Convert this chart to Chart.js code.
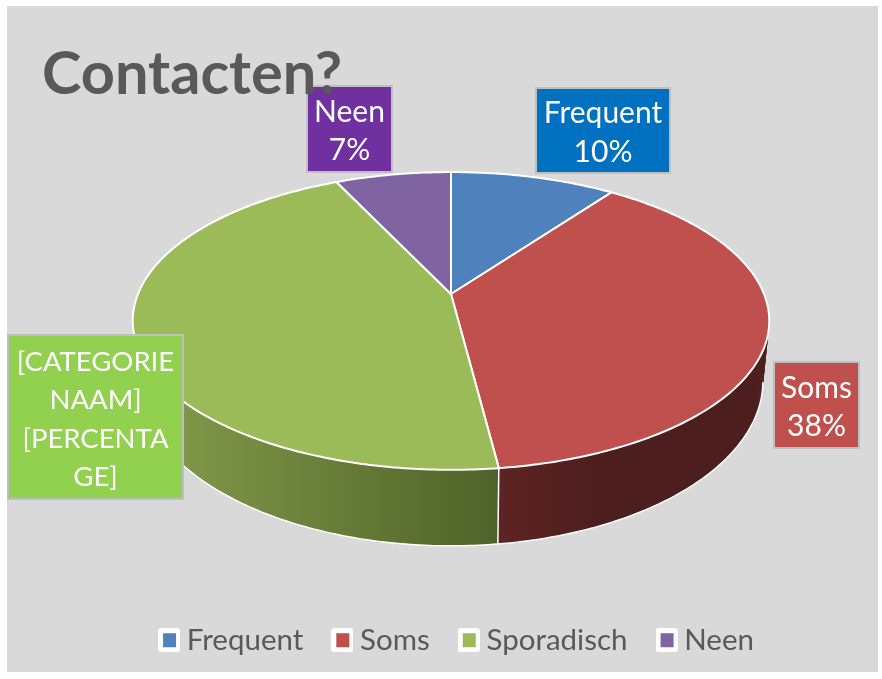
<!DOCTYPE html>
<html><head><meta charset="utf-8">
<style>html,body{margin:0;padding:0;background:#fff}#w{width:882px;height:679px;position:relative}</style>
<script src="https://cdn.jsdelivr.net/npm/chart.js@4"></script>
</head><body><div id="w"><canvas id="c" width="882" height="679"></canvas></div>
<script>
const categories = ["Frequent","Soms","Sporadisch","Neen"];
const values = [10,38,45,7];
const sliceColors = ["#4f81bd","#c0504d","#9bbb59","#8064a2"];
const labelColors = ["#0070c0","#c0504d","#92d050","#7030a0"];
const labelTexts = [["Frequent","10%"],["Soms","38%"],["[CATEGORIE","NAAM]","[PERCENTA","GE]"],["Neen","7%"]];
const labelBoxes = [[536,88,134,85],[774,362,85,86],[8,335,175,164],[307,86,85,86]];
const labelFonts = [30,30,27.5,30];
const labelOnTop = [false,false,true,false];
const wallStops = [null,[499,600,"#5e2423","#4c1e1e"],[133,499,"#869f4c","#4f6229"],null];

const TOP = {cx:451,cy:294,A:313,B:144,k:-0.181};
const LOW = {cx:451,cy:351,A:306.8,B:159.6,k:-0.181};
function proj(p,a){const t=a+Math.PI/2,u=Math.sin(t),v=-Math.cos(t),d=1+p.k*v;return [p.cx+p.A*u/d,p.cy+p.B*v/d];}
function swatch(col){const c=document.createElement('canvas');c.width=22;c.height=24;const x=c.getContext('2d');
  x.fillStyle='#fff';x.beginPath();x.roundRect(0,0,22,24,3);x.fill();x.fillStyle=col;x.fillRect(5,5,13,14);return c;}
function drawLabels(g,onTop){
  g.save();
  labelBoxes.forEach((b,i)=>{
    if(labelOnTop[i]!==onTop)return;
    g.fillStyle=labelColors[i];g.fillRect(b[0],b[1],b[2],b[3]);
    g.strokeStyle='#bfbfbf';g.lineWidth=2;g.strokeRect(b[0],b[1],b[2],b[3]);
    const lines=labelTexts[i],lh=38.5,y0=b[1]+b[3]/2-(lines.length-1)*lh/2+2.5;
    g.fillStyle='#fff';g.font=labelFonts[i]+'px Lato';g.textAlign='center';g.textBaseline='middle';
    lines.forEach((t,j)=>g.fillText(t,b[0]+b[2]/2,y0+j*lh));
  });
  g.restore();
}

const pie3d={id:'pie3d',
 beforeDraw(ch){const g=ch.ctx;g.fillStyle='#d9d9d9';g.fillRect(7,6,871,666);drawLabels(g,false);},
 beforeDatasetDraw(ch){
  const g=ch.ctx,arcs=ch.getDatasetMeta(0).data,STEP=Math.PI/240,R0=Math.PI*0.06,L0=Math.PI*0.95;
  g.save();
  arcs.forEach((arc,i)=>{
    const s=arc.startAngle,e=arc.endAngle,n=Math.max(2,Math.ceil((e-s)/STEP));
    let fill=sliceColors[i];
    const st=wallStops[i];
    if(st){const gr=g.createLinearGradient(st[0],0,st[1],0);gr.addColorStop(0,st[2]);gr.addColorStop(1,st[3]);fill=gr;}
    g.fillStyle=fill;
    for(let j=0;j<n;j++){
      const a=s+(e-s)*j/n,b=s+(e-s)*Math.min(n,j+2)/n,p1=proj(TOP,a),p2=proj(TOP,b),q1=proj(LOW,a),q2=proj(LOW,b);
      g.beginPath();g.moveTo(p1[0],p1[1]);g.lineTo(p2[0],p2[1]);g.lineTo(q2[0],q2[1]);g.lineTo(q1[0],q1[1]);g.closePath();g.fill();
    }
  });
  g.strokeStyle='#fff';g.lineWidth=1.5;
  arcs.forEach((arc)=>{
    const s=Math.max(arc.startAngle,R0),e=Math.min(arc.endAngle,L0);
    if(e>s){const n=Math.max(2,Math.ceil((e-s)/STEP));
      g.beginPath();
      for(let j=0;j<=n;j++){const q=proj(LOW,s+(e-s)*j/n);j?g.lineTo(q[0],q[1]):g.moveTo(q[0],q[1]);}
      g.stroke();}
    const p=proj(TOP,arc.startAngle),q=proj(LOW,arc.startAngle);g.beginPath();g.moveTo(p[0],p[1]);g.lineTo(q[0],q[1]);g.stroke();
  });
  arcs.forEach((arc,i)=>{
    const s=arc.startAngle,e=arc.endAngle,n=Math.max(2,Math.ceil((e-s)/STEP));
    g.beginPath();g.moveTo(TOP.cx,TOP.cy);
    for(let j=0;j<=n;j++){const p=proj(TOP,s+(e-s)*j/n);g.lineTo(p[0],p[1]);}
    g.closePath();g.fillStyle=sliceColors[i];g.fill();
    g.strokeStyle='#fff';g.lineWidth=2;g.lineJoin='round';g.stroke();
  });
  g.restore();
  return false;
 },
 afterDatasetsDraw(ch){drawLabels(ch.ctx,true);}
};

new Chart(document.getElementById('c'),{
 type:'pie',
 data:{labels:categories,datasets:[{data:values,backgroundColor:sliceColors,borderWidth:0}]},
 options:{responsive:false,animation:false,events:[],
  layout:{padding:{left:42,right:4,top:39,bottom:14}},
  plugins:{
   title:{display:true,text:'Contacten?',align:'start',color:'#595959',font:{family:'Lato',size:59.5,weight:'bold'},padding:{top:0,bottom:0},position:'top'},
   tooltip:{enabled:false},
   legend:{position:'bottom',labels:{color:'#595959',font:{family:'Lato',size:29.5},usePointStyle:true,pointStyleWidth:6,padding:36,
     generateLabels(ch){return categories.map((t,i)=>({text:t,pointStyle:swatch(sliceColors[i]),fontColor:'#595959',lineWidth:0,strokeStyle:'#fff',fillStyle:sliceColors[i],index:i,hidden:false}));}}}
  }},
 plugins:[pie3d]
});
</script></body></html>
